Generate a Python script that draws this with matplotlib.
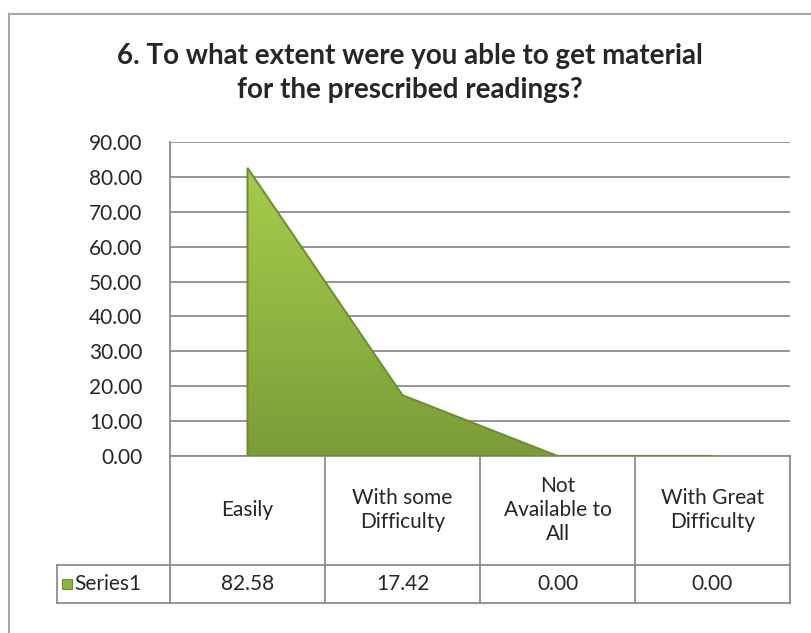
import matplotlib.pyplot as plt
import numpy as np
from matplotlib.colors import LinearSegmentedColormap
from matplotlib.patches import Polygon, Rectangle
from matplotlib.transforms import blended_transform_factory

title = "6. To what extent were you able to get material\nfor the prescribed readings?"
categories = ["Easily", "With some\nDifficulty", "Not\nAvailable to\nAll", "With Great\nDifficulty"]
values = [82.58, 17.42, 0.00, 0.00]
series_name = "Series1"
y_ticks = [0, 10, 20, 30, 40, 50, 60, 70, 80, 90]

plt.rcParams["font.family"] = ["Lato", "DejaVu Sans"]
text_color = "#262626"
grid_color = "#8c8c8c"
border_color = "#a6a6a6"

W, H = 811, 633
fig = plt.figure(figsize=(W / 100, H / 100), dpi=100)

# plot area in pixels
left_px, right_px, top_px, bottom_px = 170, 790, 142, 456
ax = fig.add_axes([left_px / W, 1 - bottom_px / H,
                   (right_px - left_px) / W, (bottom_px - top_px) / H])

n = len(categories)
x = np.arange(n) + 0.5
ax.set_xlim(0, n)
ax.set_ylim(0, 90)
ax.set_yticks(y_ticks)
ax.set_yticklabels([f"{v:.2f}" for v in y_ticks], fontsize=15, color=text_color)
ax.set_xticks([])
ax.tick_params(axis="y", length=0, pad=20)
for side in ["top", "right"]:
    ax.spines[side].set_visible(False)
for side in ["left", "bottom"]:
    ax.spines[side].set_color(grid_color)
    ax.spines[side].set_linewidth(1.3)
ax.yaxis.grid(True, color=grid_color, linewidth=1.3)
ax.set_axisbelow(True)

# area with a vertical gradient, clipped to the polygon
verts = [(x[0], 0)] + list(zip(x, values)) + [(x[-1], 0)]
poly = Polygon(verts, closed=True, facecolor="none", edgecolor="#6e8f2f",
               linewidth=1.5, zorder=3)
ax.add_patch(poly)
cmap = LinearSegmentedColormap.from_list("g", ["#7b9c38", "#93b844", "#a9cf4c"])
grad = np.linspace(0, 1, 256).reshape(-1, 1)
img = ax.imshow(grad, extent=[0, n, 0, 90], origin="lower", aspect="auto",
                cmap=cmap, zorder=2)
img.set_clip_path(poly)

# data table below the plot area
trans = blended_transform_factory(ax.transData, ax.transAxes)
ax_h = bottom_px - top_px
px_per_unit = (right_px - left_px) / n
row1 = -(565 - bottom_px) / ax_h
row2 = -(603 - bottom_px) / ax_h
key_left = (57 - left_px) / px_per_unit
line_kw = dict(color=grid_color, linewidth=1.3, transform=trans, clip_on=False)

for i in range(n + 1):
    ax.plot([i, i], [0, row2], **line_kw)
ax.plot([key_left, n], [row1, row1], **line_kw)
ax.plot([key_left, n], [row2, row2], **line_kw)
ax.plot([key_left, key_left], [row1, row2], **line_kw)

for xi, cat, val in zip(x, categories, values):
    ax.text(xi, row1 / 2, cat, ha="center", va="center", fontsize=15,
            color=text_color, transform=trans, linespacing=1.25)
    ax.text(xi, (row1 + row2) / 2, f"{val:.2f}", ha="center", va="center",
            fontsize=15, color=text_color, transform=trans)

key_px = 10
ax.add_patch(Rectangle((key_left + 5 / px_per_unit, (row1 + row2) / 2 - 5 / ax_h),
                       key_px / px_per_unit, key_px / ax_h, transform=trans,
                       facecolor="#8db33f", edgecolor="#6e8f2f", linewidth=0.8,
                       clip_on=False))
ax.text(key_left + 17 / px_per_unit, (row1 + row2) / 2, series_name, ha="left",
        va="center", fontsize=15, color=text_color, transform=trans)

# chart border
fig.add_artist(plt.Line2D([9 / W, 9 / W], [0, 1 - 14 / H], color=border_color,
                          linewidth=1.5, transform=fig.transFigure))
fig.add_artist(plt.Line2D([9 / W, 1], [1 - 14 / H, 1 - 14 / H], color=border_color,
                          linewidth=1.5, transform=fig.transFigure))

fig.text(410 / W, 1 - 73 / H, title, ha="center", va="center", fontsize=20,
         fontweight="bold", color=text_color, linespacing=1.4)

fig.savefig("out.png", dpi=100)
